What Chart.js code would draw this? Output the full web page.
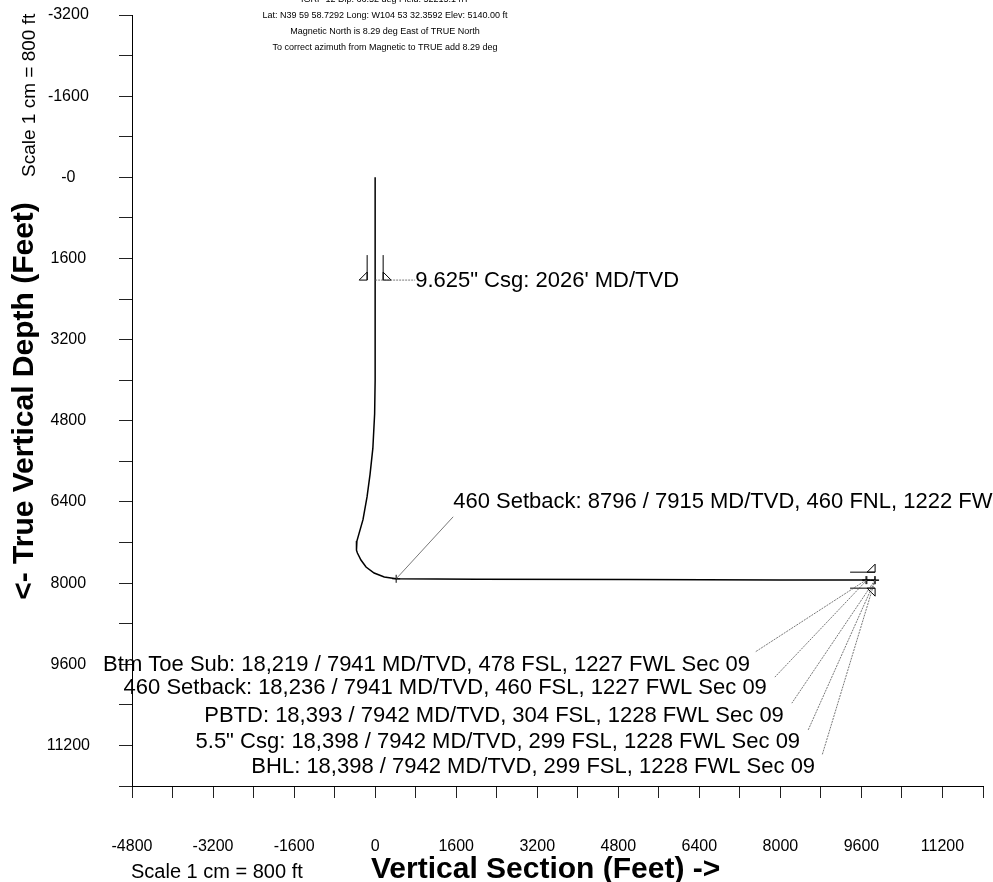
<!DOCTYPE html>
<html>
<head>
<meta charset="utf-8">
<script src="https://cdn.jsdelivr.net/npm/chart.js@4.4.1/dist/chart.umd.min.js"></script>
<style>
  html, body { margin: 0; padding: 0; background: #fff; }
  #wrap { width: 993px; height: 882px; position: relative; }
</style>
</head>
<body>
<div id="wrap"><canvas id="wellChart"></canvas></div>
<script>
// --- data ---
const pathVS  = [0, 0, 0, 0, -10, -45, -100, -160, -240, -320, -360, -372, -365, -350, -280, -180, -20, 180, 415, 2000, 5000, 8000, 9690, 9707, 9865, 9870];
const pathTVD = [0, 1600, 2026, 4000, 4660, 5340, 5850, 6300, 6750, 7030, 7170, 7290, 7350, 7407, 7545, 7683, 7801, 7880, 7915, 7922, 7930, 7938, 7941, 7941, 7942, 7942];

const keyVS  = [415, 9690, 9707, 9865, 9870];
const keyTVD = [7915, 7941, 7941, 7942, 7942];

const casingVS  = [0, 9870];
const casingTVD = [2026, 7942];
const casingInc = [0, 90];

const noteText = [
  '9.625" Csg: 2026\' MD/TVD',
  '460 Setback: 8796 / 7915 MD/TVD, 460 FNL, 1222 FWL',
  'Btm Toe Sub: 18,219 / 7941 MD/TVD, 478 FSL, 1227 FWL Sec 09',
  '460 Setback: 18,236 / 7941 MD/TVD, 460 FSL, 1227 FWL Sec 09',
  'PBTD: 18,393 / 7942 MD/TVD, 304 FSL, 1228 FWL Sec 09',
  '5.5" Csg: 18,398 / 7942 MD/TVD, 299 FSL, 1228 FWL Sec 09',
  'BHL: 18,398 / 7942 MD/TVD, 299 FSL, 1228 FWL Sec 09'
];
const noteVS  = [0, 415, 9690, 9707, 9865, 9870, 9870];
const noteTVD = [2026, 7915, 7941, 7941, 7942, 7942, 7942];

const headerLines = [
  'IGRF-12 Dip: 66.52 deg Field: 52215.1 nT',
  'Lat: N39 59 58.7292 Long: W104 53 32.3592 Elev: 5140.00 ft',
  'Magnetic North is 8.29 deg East of TRUE North',
  'To correct azimuth from Magnetic to TRUE add 8.29 deg'
];

const xLabelValues = [-4800, -3200, -1600, 0, 1600, 3200, 4800, 6400, 8000, 9600, 11200];
const xTickLabels  = ['-4800', '-3200', '-1600', '0', '1600', '3200', '4800', '6400', '8000', '9600', '11200'];
const yLabelValues = [-3200, -1600, 0, 1600, 3200, 4800, 6400, 8000, 9600, 11200];
const yTickLabels  = ['-3200', '-1600', '-0', '1600', '3200', '4800', '6400', '8000', '9600', '11200'];

// label placement: pixel offsets from target [lineDx, lineDy, textDx, textDy, align, dashed]
const noteLayout = [
  [40, 0, 40, 1, 'left', true],
  [57, -62, 57, -77, 'left', false],
  [-111, 72, -116, 85, 'right', true],
  [-92, 97, -100, 108, 'right', true],
  [-83, 123, -91, 136, 'right', true],
  [-67, 150, -75, 162, 'right', true],
  [-53, 175, -60, 187, 'right', true]
];

const FONT = "'Liberation Sans', Arial, sans-serif";

const noPad = s => { s.paddingLeft = 0; s.paddingRight = 0; s.paddingTop = 0; s.paddingBottom = 0; };

const overlay = {
  id: 'overlay',
  afterDatasetsDraw(chart) {
    const ctx = chart.ctx;
    const xs = chart.scales.x, ys = chart.scales.y;
    ctx.save();

    // casing shoe markers
    ctx.strokeStyle = '#000';
    ctx.lineWidth = 1;
    casingVS.forEach((vs, i) => {
      const tx = xs.getPixelForValue(vs), ty = ys.getPixelForValue(casingTVD[i]);
      const a = casingInc[i] * Math.PI / 180;
      const d = [Math.sin(a), Math.cos(a)];
      const n = [Math.cos(a), -Math.sin(a)];
      const W = 8, L = 25, T = 8;
      [-1, 1].forEach(s => {
        const bx = tx + s * W * n[0], by = ty + s * W * n[1];
        ctx.beginPath();
        ctx.moveTo(bx - L * d[0], by - L * d[1]);
        ctx.lineTo(bx, by);
        ctx.stroke();
        ctx.beginPath();
        ctx.moveTo(bx, by);
        ctx.lineTo(bx + s * T * n[0], by + s * T * n[1]);
        ctx.lineTo(bx - T * d[0], by - T * d[1]);
        ctx.closePath();
        ctx.stroke();
      });
    });

    // annotations
    noteText.forEach((txt, i) => {
      const tx = xs.getPixelForValue(noteVS[i]), ty = ys.getPixelForValue(noteTVD[i]);
      const [ldx, ldy, tdx, tdy, align, dashed] = noteLayout[i];
      ctx.strokeStyle = '#555';
      ctx.lineWidth = 0.8;
      ctx.setLineDash(dashed ? [2, 1] : []);
      ctx.beginPath();
      ctx.moveTo(tx, ty);
      ctx.lineTo(tx + ldx, ty + ldy);
      ctx.stroke();
      ctx.setLineDash([]);
      ctx.fillStyle = '#000';
      ctx.font = '22px ' + FONT;
      ctx.textAlign = align;
      ctx.textBaseline = 'middle';
      ctx.fillText(txt, tx + tdx, ty + tdy);
    });
    ctx.restore();
  },
  afterDraw(chart) {
    const ctx = chart.ctx;
    ctx.save();
    ctx.fillStyle = '#000';

    // header block
    ctx.font = '9px ' + FONT;
    ctx.textAlign = 'center';
    ctx.textBaseline = 'middle';
    headerLines.forEach((line, i) => ctx.fillText(line, 385, -0.5 + i * 16));

    // x title + scale note
    ctx.textBaseline = 'alphabetic';
    ctx.textAlign = 'left';
    ctx.font = 'bold 30px ' + FONT;
    ctx.fillText('Vertical Section (Feet) ->', 371, 878);
    ctx.font = '20px ' + FONT;
    ctx.fillText('Scale 1 cm = 800 ft', 131, 878);

    // y title + scale note (rotated)
    ctx.save();
    ctx.translate(33, 401);
    ctx.rotate(-Math.PI / 2);
    ctx.textAlign = 'center';
    ctx.font = 'bold 30px ' + FONT;
    ctx.fillText('<- True Vertical Depth (Feet)', 0, 0);
    ctx.restore();

    ctx.save();
    ctx.translate(35, 177);
    ctx.rotate(-Math.PI / 2);
    ctx.textAlign = 'left';
    ctx.font = '19px ' + FONT;
    ctx.fillText('Scale 1 cm = 800 ft', 0, 0);
    ctx.restore();

    ctx.restore();
  }
};

new Chart(document.getElementById('wellChart'), {
  type: 'scatter',
  data: {
    datasets: [
      {
        label: 'Well path',
        data: pathVS.map((v, i) => ({ x: v, y: pathTVD[i] })),
        showLine: true,
        borderColor: '#000',
        borderWidth: 1.5,
        pointRadius: 0,
        tension: 0
      },
      {
        label: 'Targets',
        data: keyVS.map((v, i) => ({ x: v, y: keyTVD[i] })),
        pointStyle: 'cross',
        pointRadius: 4,
        borderColor: '#000',
        borderWidth: 1
      }
    ]
  },
  options: {
    responsive: true,
    maintainAspectRatio: false,
    animation: false,
    layout: { padding: { top: 15, right: 10, left: 0, bottom: 0 } },
    plugins: {
      legend: { display: false },
      tooltip: { enabled: false }
    },
    scales: {
      x: {
        type: 'linear',
        min: -4800,
        max: 12000,
        ticks: {
          stepSize: 800,
          autoSkip: false,
          maxRotation: 0,
          padding: 39,
          color: '#000',
          font: { family: FONT, size: 16 },
          callback: v => {
            const i = xLabelValues.indexOf(v);
            return i < 0 ? '' : xTickLabels[i];
          }
        },
        grid: { drawOnChartArea: false, tickLength: 12, color: '#222' },
        border: { color: '#000', width: 1 },
        afterFit: s => { s.height = 96; noPad(s); }
      },
      y: {
        type: 'linear',
        reverse: true,
        min: -3200,
        max: 12000,
        ticks: {
          stepSize: 800,
          autoSkip: false,
          padding: 29,
          crossAlign: 'center',
          color: '#000',
          font: { family: FONT, size: 16 },
          callback: v => {
            const i = yLabelValues.indexOf(v);
            return i < 0 ? '' : yTickLabels[i];
          }
        },
        grid: { drawOnChartArea: false, tickLength: 13, color: '#222' },
        border: { color: '#000', width: 1 },
        afterFit: s => { s.width = 132; noPad(s); }
      }
    }
  },
  plugins: [overlay]
});
</script>
</body>
</html>
